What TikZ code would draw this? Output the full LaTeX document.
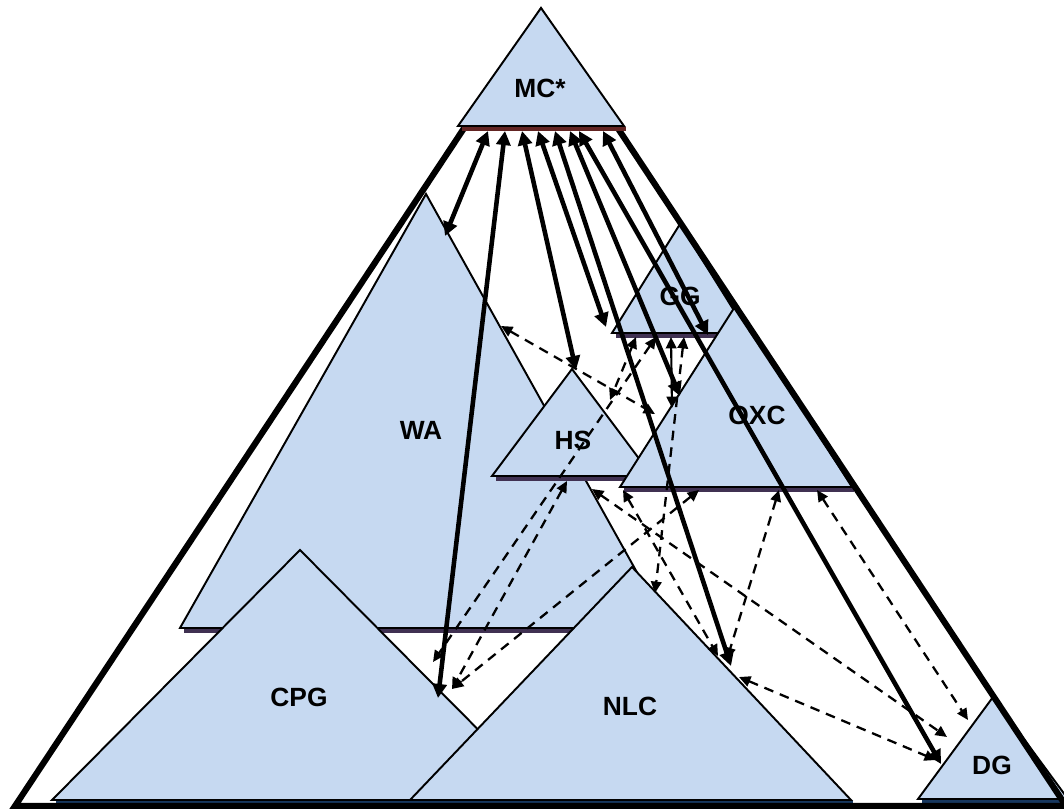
\documentclass[tikz,border=0pt]{standalone}
\usepackage{fontspec}
\setmainfont{Liberation Sans}
\usetikzlibrary{arrows.meta}

\definecolor{pyrfill}{RGB}{198,217,241}
\definecolor{baseshade}{RGB}{64,49,82}
\definecolor{mcshade}{RGB}{99,37,35}
\definecolor{navyshade}{RGB}{23,55,94}

\tikzset{
  pyr/.style={fill=pyrfill, draw=black, line width=1.1pt},
  lbl/.style={font=\bfseries\fontsize{15}{18}\selectfont},
  link/.style={line width=2.6pt, {Triangle[length=8pt,width=8pt]}-{Triangle[length=8pt,width=8pt]}},
  tlink/.style={line width=1.2pt, {Triangle[length=6.5pt,width=6pt]}-{Triangle[length=6.5pt,width=6pt]}},
  dlink/.style={line width=1.3pt, dash pattern=on 5.5pt off 4pt, {Triangle[length=6.5pt,width=6pt]}-{Triangle[length=6.5pt,width=6pt]}},
}

% [shade colour]{apex x}{apex y}{base y}{left x}{right x}
\newcommand{\pyramid}[6][baseshade]{%
  \draw[line width=2.6pt, #1] (#5+4,#4+3) -- (#6+2,#4+3);
  \filldraw[pyr] (#2,#3) -- (#5,#4) -- (#6,#4) -- cycle;}

\begin{document}
\begin{tikzpicture}[x=0.02cm, y=-0.02cm]
\useasboundingbox (0,0) rectangle (1064,808);

% pyramids, back to front
\pyramid{426}{194}{628}{180}{668}
\pyramid[navyshade]{300}{550}{800}{52}{548}
\pyramid[navyshade]{632}{567}{800}{410}{851}
\pyramid{572}{369}{476}{492}{652}
\pyramid{680}{224}{333}{612}{748}
\pyramid{736}{305}{487}{620}{852}
\pyramid[navyshade]{993}{697}{799}{918}{1068}

% outer frame
\draw[line width=3.5pt] (15,806) -- (541,12) -- (1066,806) -- cycle;
\pyramid[mcshade]{541}{8}{126}{458}{624}

\node[lbl] (mc) at (540,88) {MC*};
\node[lbl] (wa) at (421,430) {WA};
\node[lbl] (cpg) at (299,697) {CPG};
\node[lbl] (nlc) at (630,706) {NLC};
\node[lbl] (hs) at (573,440) {HS};
\node[lbl] (gg) at (680,296) {GG};
\node[lbl] (oxc) at (757,415) {OXC};
\node[lbl] (dg) at (992,765) {DG};

% arrow ends
\foreach \x [count=\i] in {488,505,522,538,555,570,579,603}
  \coordinate (m\i) at (\x,131);
\coordinate (wa1) at (445,236);
\coordinate (wa2) at (501,326);
\coordinate (cpg1) at (438,698);
\coordinate (cpg2) at (433,662);
\coordinate (cpg3) at (452,689);
\coordinate (hs1) at (576,370);
\coordinate (hs2) at (610,400);
\coordinate (hs3) at (567,481);
\coordinate (hs4) at (592,489);
\coordinate (gg1) at (606,327);
\coordinate (gg2) at (708,335);
\coordinate (gg3) at (636,337);
\coordinate (gg4) at (656,337);
\coordinate (gg5) at (671,337);
\coordinate (gg6) at (684,337);
\coordinate (oxc1) at (680,396);
\coordinate (oxc2) at (655,414);
\coordinate (oxc3) at (672,408);
\coordinate (oxc4) at (623,490);
\coordinate (oxc5) at (699,490);
\coordinate (oxc6) at (779,490);
\coordinate (oxc7) at (817,490);
\coordinate (nlc1) at (731,666);
\coordinate (nlc2) at (718,656);
\coordinate (nlc3) at (727,659);
\coordinate (nlc4) at (739,677);
\coordinate (nlc5) at (655,593);
\coordinate (dg1) at (941,764);
\coordinate (dg2) at (947,737);
\coordinate (dg3) at (968,720);
\coordinate (dg4) at (936,760);

\foreach \a/\b in {m1/wa1, m2/cpg1, m3/hs1, m4/gg1, m5/nlc1, m6/oxc1, m7/dg1, m8/gg2}
  \draw[link] (\a) -- (\b);
\draw[tlink] (gg5) -- (oxc3);
\foreach \a/\b in {wa2/oxc2, gg3/hs2, gg4/cpg2, hs3/cpg3, oxc5/cpg3, hs4/dg2,
                   oxc4/nlc2, oxc6/nlc3, oxc7/dg3, nlc4/dg4, gg6/nlc5}
  \draw[dlink] (\a) -- (\b);
\end{tikzpicture}
\end{document}
